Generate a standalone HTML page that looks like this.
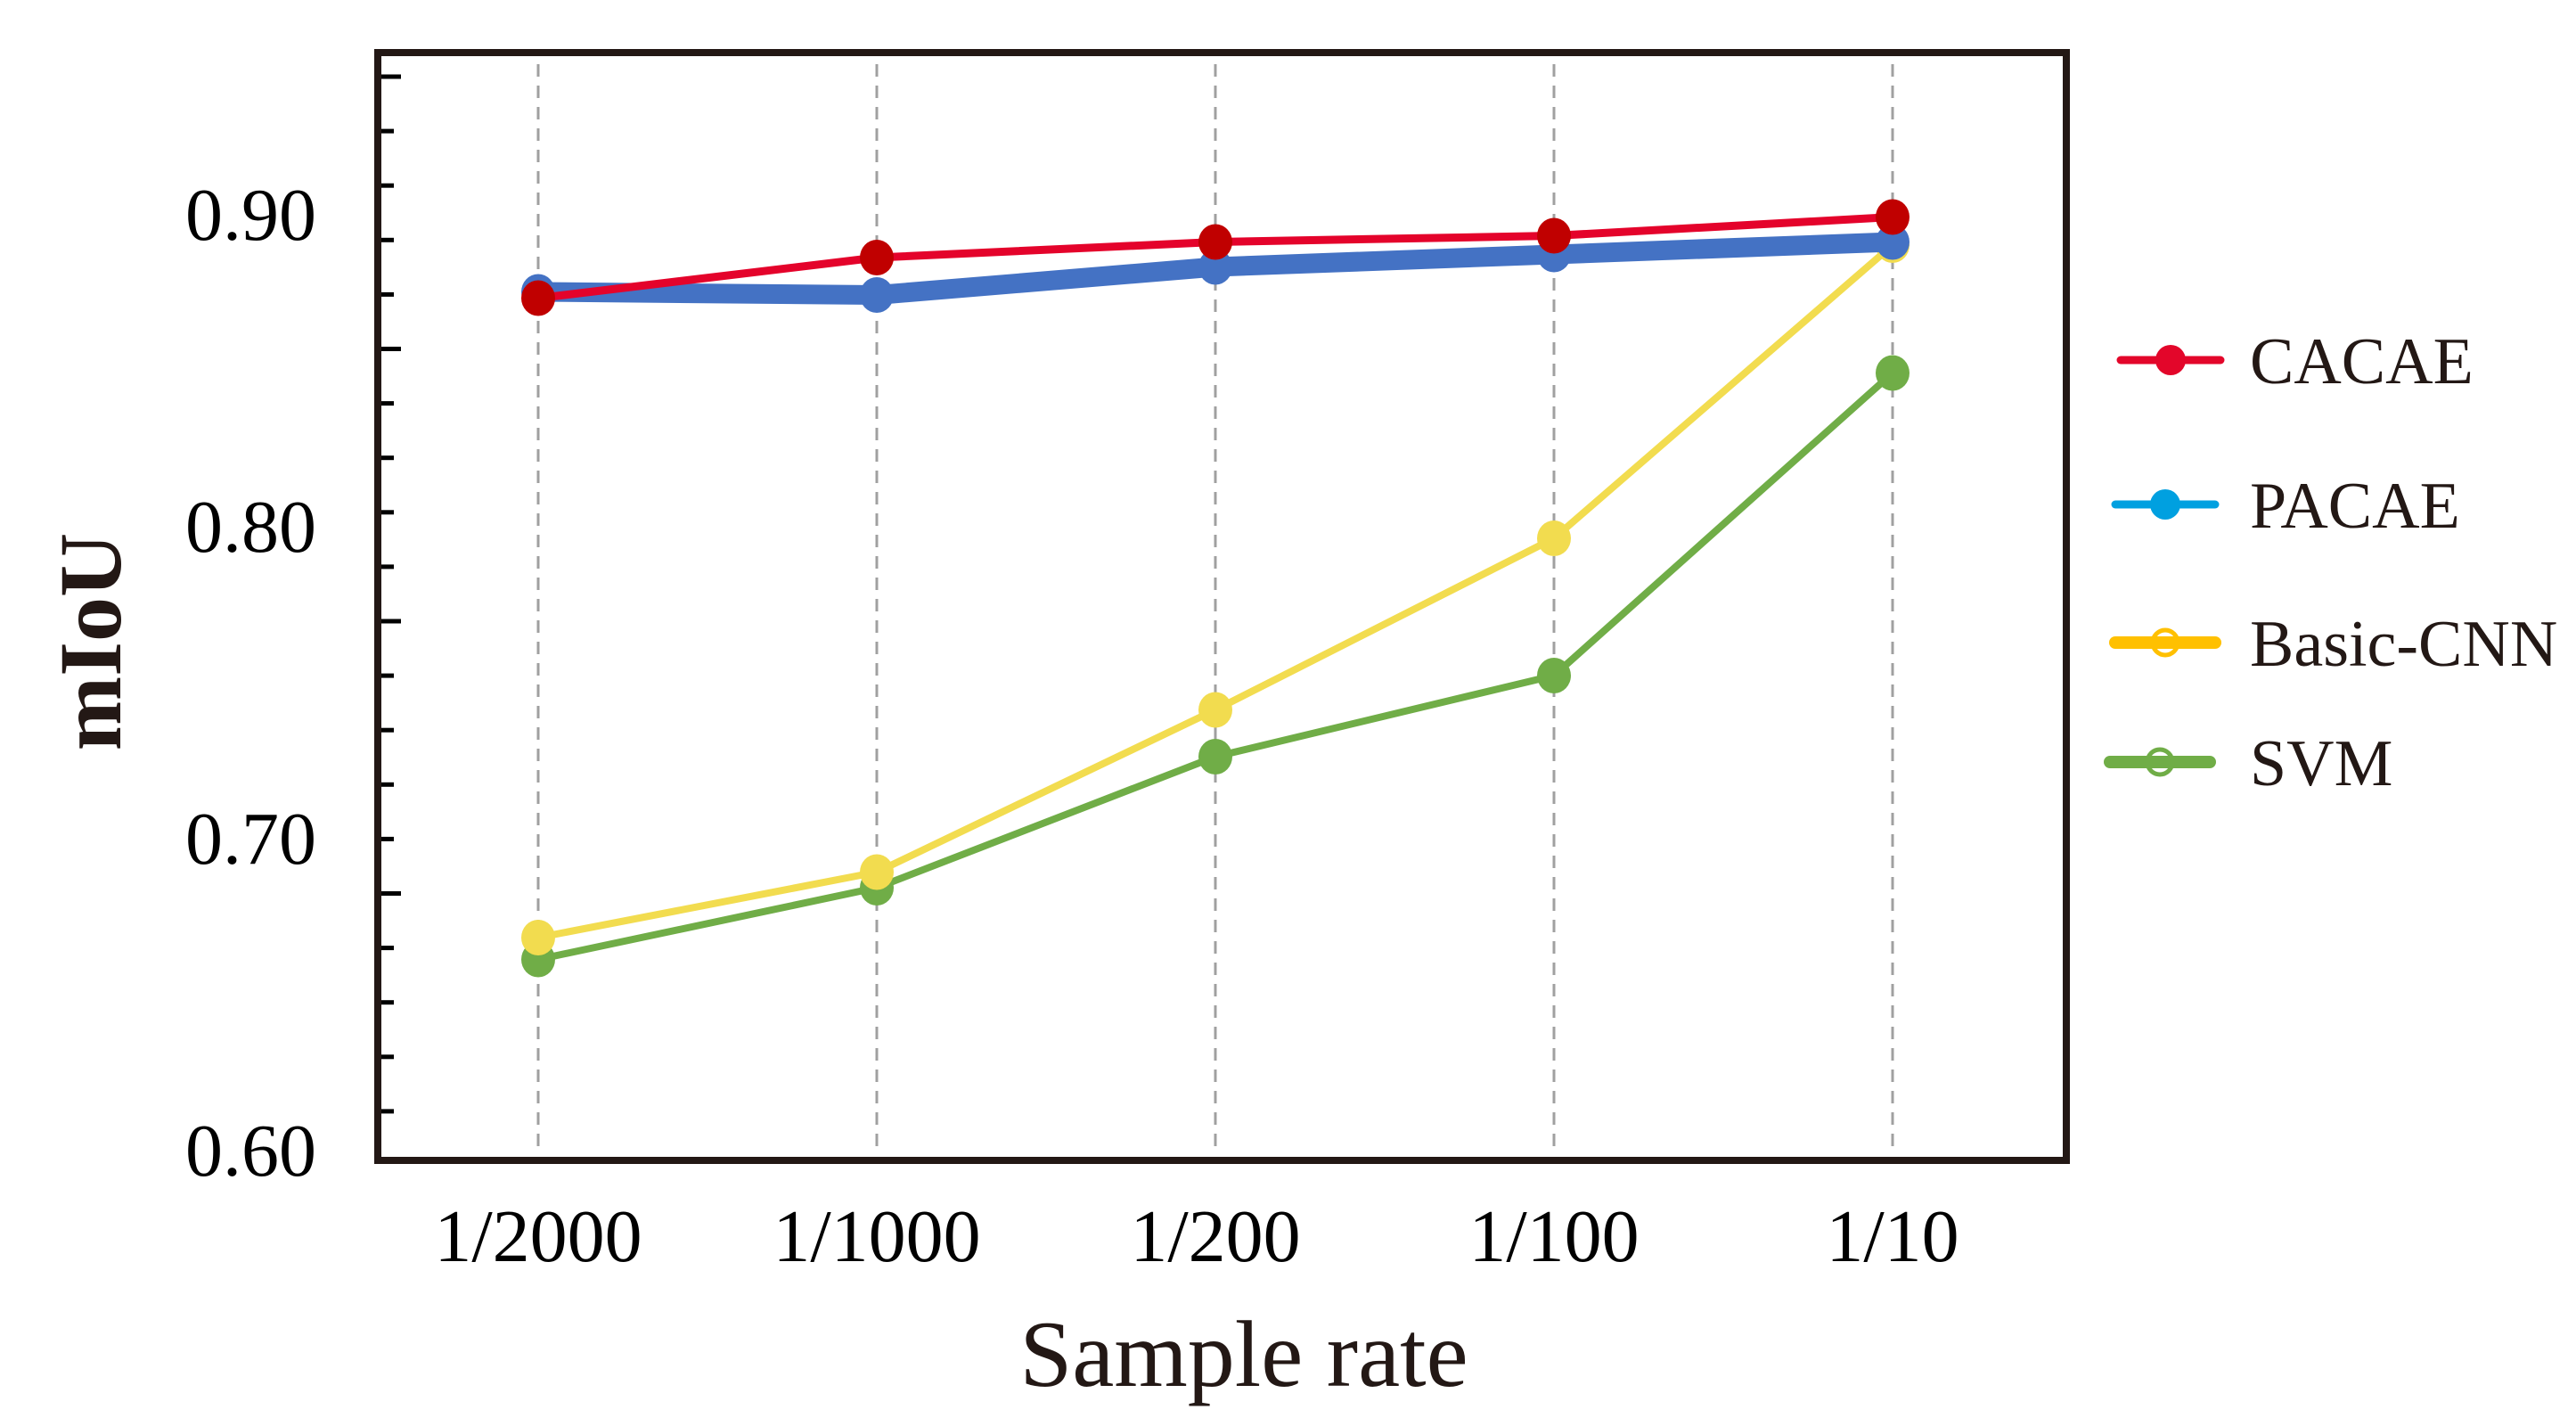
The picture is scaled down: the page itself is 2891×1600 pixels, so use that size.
<!DOCTYPE html>
<html><head><meta charset="utf-8"><style>
html,body{margin:0;padding:0;background:#fff;}
svg{display:block;font-family:"Liberation Serif",serif;}
</style></head><body>
<svg id="chart" width="2891" height="1600" viewBox="0 0 2891 1600" xmlns="http://www.w3.org/2000/svg">
<g id="grid"></g>
<g id="ticks"></g>
<g id="ylabels"></g>
<g id="xlabels"></g>
<g id="series"></g>
<rect x="424" y="59" width="1895" height="1243" fill="none" stroke="#231815" stroke-width="8"/>
<text x="0" y="0" transform="translate(135,720) rotate(-90)" text-anchor="middle" font-size="100" font-weight="bold" fill="#231815">mIoU</text>
<text x="1396" y="1555" text-anchor="middle" font-size="106" fill="#231815">Sample rate</text>
<g id="legend"></g>
</svg>
<script>
const categories = ["1/2000","1/1000","1/200","1/100","1/10"];
const yTicks = [0.60,0.70,0.80,0.90];
const yTickLabels = ["0.60","0.70","0.80","0.90"];
const seriesNames = ["CACAE","PACAE","Basic-CNN","SVM"];
const cacae = [0.873,0.886,0.891,0.893,0.899];
const pacae = [0.875,0.874,0.883,0.887,0.891];
const basicCnn = [0.668,0.689,0.741,0.796,0.890];
const svm = [0.661,0.684,0.726,0.752,0.849];

const NS="http://www.w3.org/2000/svg";
function mk(tag,attrs,parent){const e=document.createElementNS(NS,tag);for(const k in attrs)e.setAttribute(k,attrs[k]);parent.appendChild(e);return e;}
function xScale(i){return 604+i*380;}
function yScale(v){return 240+(0.9-v)*3500;}

const grid=document.getElementById('grid');
categories.forEach((c,i)=>{
  const l=mk('line',{x1:xScale(i),x2:xScale(i),y1:72,y2:1296,stroke:'#a0a0a0','stroke-width':3,'stroke-dasharray':'14 10'},grid);
  
  
});
const ticks=document.getElementById('ticks');
for(let k=0;k<20;k++){
  const y=86+k*61.1;const len=(k%5===0)?22:14;
  const t=mk('line',{x1:428,x2:428+len,y1:y,y2:y,stroke:'#000','stroke-width':5},ticks);
  
  
}
const yl=document.getElementById('ylabels');
yTicks.forEach((v,i)=>{
  const t=mk('text',{x:355,y:yScale(v)+29,'text-anchor':'end','font-size':84,fill:'#000'},yl);
  t.textContent=yTickLabels[i];
  
  
});
const xl=document.getElementById('xlabels');
categories.forEach((c,i)=>{
  const t=mk('text',{x:xScale(i),y:1415,'text-anchor':'middle','font-size':84,fill:'#000'},xl);
  t.textContent=c;
  
  
});
const sg=document.getElementById('series');
const specs=[
 {name:'svm',data:svm,line:'#70ad47',mark:'#70ad47',w:8},
 {name:'basic-cnn',data:basicCnn,line:'#f2dc4f',mark:'#f2dc4f',w:8},
 {name:'pacae',data:pacae,line:'#4472c4',mark:'#4472c4',w:22},
 {name:'cacae',data:cacae,line:'#e4032b',mark:'#c00000',w:9}
];
specs.forEach(s=>{
  const g=mk('g',{},sg);
  
  
  const pts=s.data.map((v,i)=>xScale(i)+','+yScale(v)).join(' ');
  const pl=mk('polyline',{points:pts,fill:'none',stroke:s.line,'stroke-width':s.w,'stroke-linejoin':'round'},g);
  
  
  s.data.forEach((v,i)=>{
    const c=mk('ellipse',{cx:xScale(i),cy:yScale(v),rx:19,ry:20,fill:s.mark},g);
    
    
  });
});
const lg=document.getElementById('legend');
const legendY=[404,566,721,855];
const legendCol=['#e3062a','#00a0e0','#ffc000','#70ad47'];
const legendX=[2436,2430,2430,2424];
const legendW=[9,9,14,14];
seriesNames.forEach((n,i)=>{
  const g=mk('g',{},lg);
  
  
  const cx=legendX[i];
  mk('line',{x1:cx-56,x2:cx+56,y1:legendY[i],y2:legendY[i],stroke:legendCol[i],'stroke-width':legendW[i],'stroke-linecap':'round'},g);
  if(i<2) mk('circle',{cx:cx,cy:legendY[i],r:17,fill:legendCol[i]},g);
  else mk('circle',{cx:cx,cy:legendY[i],r:14,fill:'none',stroke:legendCol[i],'stroke-width':5},g);
  const t=mk('text',{x:2525,y:legendY[i]+26,'font-size':74,fill:'#231815'},g);
  t.textContent=n;
});
</script>
</body></html>
